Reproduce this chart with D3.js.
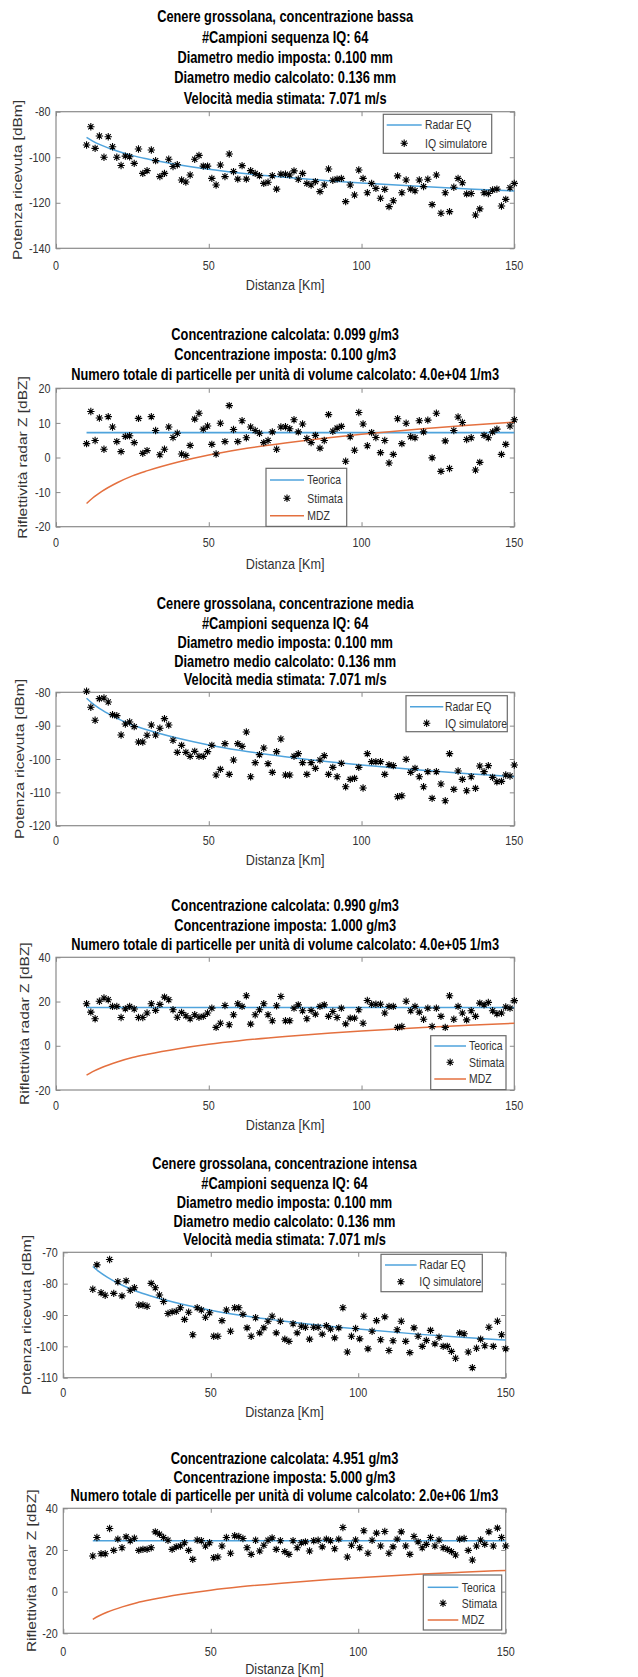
<!DOCTYPE html>
<html><head><meta charset="utf-8">
<script src="https://cdn.jsdelivr.net/npm/d3@7/dist/d3.min.js"></script>
<style>html,body{margin:0;padding:0;background:#fff;}svg{display:block;}</style>
</head><body>
<svg id="chart" width="638" height="1677"></svg>
<script>
// ---------------- DATA ----------------
const distanze = [10,11.4,12.8,14.2,15.7,17.1,18.5,19.9,21.3,22.7,24.1,25.6,27,28.4,29.8,31.2,32.6,34,35.5,36.9,38.3,39.7,41.1,42.5,43.9,45.4,46.8,48.2,49.6,51,52.4,53.8,55.3,56.7,58.1,59.5,60.9,62.3,63.7,65.2,66.6,68,69.4,70.8,72.2,73.6,75.1,76.5,77.9,79.3,80.7,82.1,83.5,84.9,86.4,87.8,89.2,90.6,92,93.4,94.8,96.3,97.7,99.1,100.5,101.9,103.3,104.7,106.2,107.6,109,110.4,111.8,113.2,114.6,116.1,117.5,118.9,120.3,121.7,123.1,124.5,126,127.4,128.8,130.2,131.6,133,134.4,135.9,137.3,138.7,140.1,141.5,142.9,144.3,145.8,147.2,148.6,150];

const potenzaBassa = [-94.6,-86.6,-96.1,-90.7,-100.0,-91.0,-95.4,-100.0,-103.6,-99.5,-99.8,-102.7,-96.4,-107.1,-105.9,-96.8,-101.5,-108.5,-107.1,-100.9,-104.1,-103.3,-110.0,-110.9,-107.8,-100.9,-99.2,-103.9,-103.9,-109.3,-112.2,-103.4,-108.5,-98.6,-106.3,-109.6,-103.7,-109.6,-105.9,-107.1,-108.1,-111.5,-111.0,-108.1,-114.0,-107.4,-107.5,-107.8,-106.0,-109.7,-107.1,-111.5,-112.2,-110.7,-115.1,-112.2,-105.2,-110.1,-109.6,-109.3,-119.5,-112.2,-116.6,-105.6,-109.3,-115.6,-111.5,-113.7,-118.0,-114.1,-121.7,-119.1,-108.2,-115.6,-110.0,-114.0,-114.7,-110.0,-112.9,-109.7,-120.8,-107.8,-124.6,-115.6,-123.9,-113.2,-109.3,-111.2,-116.1,-115.9,-125.4,-122.7,-115.6,-115.9,-114.4,-114.0,-121.4,-118.5,-113.4,-111.5];
const zBassa = [4.0,13.3,4.9,11.4,2.4,11.8,8.8,4.6,1.7,6.1,6.3,4.3,11.3,1.2,2.0,11.8,7.8,0.8,2.4,8.8,5.8,7.0,1.0,0.6,3.5,11.1,12.8,8.2,9.1,3.8,1.0,9.9,4.6,15.0,8.1,4.6,10.6,5.7,8.8,7.8,7.0,4.3,4.9,7.4,2.4,8.8,8.9,8.3,10.9,7.4,9.7,5.5,4.3,6.4,2.7,4.9,12.4,7.6,8.5,9.0,-1.1,6.0,2.1,13.0,9.7,3.4,7.2,5.8,1.4,4.9,-1.6,0.9,11.2,4.0,9.9,6.0,5.7,10.6,7.4,10.8,-0.1,12.8,-4.0,4.8,-3.2,7.8,11.7,10.1,5.2,5.7,-3.6,-1.4,6.4,5.7,7.4,8.2,0.9,3.8,9.1,10.9];

const potenzaMedia = [-79.7,-84.5,-88.4,-81.9,-81.7,-82.9,-86.7,-87.0,-92.8,-89.5,-88.9,-90.3,-94.9,-94.9,-92.9,-89.8,-92.8,-90.8,-87.9,-89.8,-94.4,-98.0,-95.9,-98.0,-99.2,-97.7,-99.2,-99.2,-97.8,-95.9,-104.8,-103.1,-95.4,-104.6,-100.3,-95.4,-96.2,-91.9,-105.3,-101.1,-98.7,-96.7,-101.4,-104.0,-97.8,-94.0,-104.8,-104.8,-99.2,-98.4,-101.1,-104.6,-101.1,-102.8,-100.3,-99.0,-104.6,-102.5,-105.3,-101.3,-108.3,-106.1,-105.8,-102.5,-108.7,-98.4,-100.8,-100.8,-100.8,-104.6,-101.7,-102.0,-111.3,-111.0,-100.1,-104.0,-102.8,-105.3,-108.3,-103.8,-111.8,-103.8,-107.5,-112.5,-98.4,-109.1,-103.6,-106.1,-109.5,-105.3,-108.8,-102.1,-103.8,-102.0,-105.5,-106.8,-106.7,-104.8,-105.1,-101.8];
const zMedia = [19.0,15.2,12.2,20.1,21.6,20.8,17.8,17.8,12.8,16.7,17.8,16.6,12.8,12.8,14.8,19.0,16.0,18.7,22.0,20.8,16.3,12.9,15.1,13.6,12.2,14.0,12.9,13.3,14.8,17.0,8.3,10.2,18.2,9.5,14.0,19.0,17.8,22.6,9.8,14.0,16.3,19.0,14.0,11.3,18.1,22.3,11.3,11.3,17.0,18.5,15.8,12.2,16.0,14.3,17.8,18.5,13.3,15.5,12.8,17.0,9.9,12.5,12.5,16.3,10.2,20.5,18.8,18.8,18.8,14.8,17.8,17.8,8.3,8.7,20.1,15.8,17.8,15.2,12.0,17.0,8.7,17.0,13.3,8.3,22.6,12.0,17.8,14.8,11.7,15.8,13.3,19.3,18.5,19.6,15.8,14.5,14.8,17.5,17.0,20.4];

const potenzaIntensa = [-81.8,-74.0,-82.9,-83.7,-72.3,-83.1,-79.4,-83.9,-79.1,-82.1,-81.3,-86.8,-86.8,-87.2,-79.9,-81.3,-83.6,-85.7,-89.5,-89.0,-88.8,-87.7,-91.4,-89.1,-96.3,-87.7,-88.4,-90.7,-89.3,-96.8,-96.8,-91.8,-88.4,-95.2,-87.7,-87.7,-89.8,-94.1,-96.8,-90.9,-95.7,-94.1,-92.0,-90.4,-95.7,-92.0,-97.7,-98.4,-92.8,-95.7,-93.6,-93.9,-97.7,-93.9,-93.9,-96.1,-93.4,-94.5,-97.3,-94.1,-87.7,-101.8,-96.8,-94.3,-97.6,-90.4,-100.8,-95.2,-91.8,-97.9,-90.6,-101.3,-98.2,-94.7,-92.0,-98.4,-102.0,-94.1,-96.8,-100.0,-98.1,-94.9,-99.2,-97.1,-100.0,-100.0,-101.6,-103.8,-95.7,-96.0,-101.8,-106.8,-100.6,-97.7,-99.8,-93.9,-100.0,-92.0,-96.3,-100.8];
const zIntensa = [17.1,26.0,18.2,18.2,30.3,19.8,25.2,21.1,26.3,24.4,25.6,19.8,20.3,20.3,21.1,28.7,27.6,26.0,24.7,20.3,21.5,21.9,23.5,19.8,15.5,24.8,24.4,21.9,23.5,16.3,16.6,21.9,26.0,18.4,26.8,26.5,25.5,21.1,17.9,24.7,19.5,22.3,24.7,25.8,20.3,24.4,19.2,17.9,24.4,21.1,23.5,23.9,19.5,24.4,24.7,21.5,25.2,24.4,20.6,25.2,30.8,16.6,22.3,24.8,21.1,29.2,18.4,24.7,28.1,21.9,28.9,18.4,21.5,25.2,28.7,21.9,17.9,26.5,23.9,21.1,22.7,26.0,21.9,24.8,21.1,20.3,19.2,17.6,25.2,25.5,19.8,15.2,21.9,24.8,22.7,28.7,21.9,30.5,26.0,21.9];

// theoretical curves, read at a few distances
const curvaX = [10,12,15,20,25,30,40,50,60,75,90,100,120,135,150];
const radarEqBassa   = [-91.3,-92.9,-94.8,-97.3,-99.3,-100.8,-103.3,-105.3,-106.9,-108.8,-110.4,-111.3,-112.9,-113.9,-114.8];
const radarEqMedia   = [-81.8,-83.4,-85.3,-87.8,-89.8,-91.3,-93.8,-95.8,-97.4,-99.3,-100.9,-101.8,-103.4,-104.4,-105.3];
const radarEqIntensa = [-74.5,-76.1,-78.0,-80.5,-82.5,-84.0,-86.5,-88.5,-90.1,-92.0,-93.6,-94.5,-96.1,-97.1,-98.0];
const mdz            = [-13.3,-11.7,-9.8,-7.3,-5.3,-3.8,-1.3,0.7,2.3,4.2,5.8,6.7,8.3,9.3,10.2];
const teoricaX = [10,150];
const teoricaBassa = [7.2,7.2];
const teoricaMedia = [17.3,17.3];
const teoricaIntensa = [24.4,24.4];

const xTicks = [0,50,100,150];
const yTicksPotBassa = [-140,-120,-100,-80];
const yTicksPotMedia = [-120,-110,-100,-90,-80];
const yTicksPotIntensa = [-110,-100,-90,-80,-70];
const yTicksZBassa = [-20,-10,0,10,20];
const yTicksZ = [-20,0,20,40];

const titoliBassa = ["Cenere grossolana, concentrazione bassa","#Campioni sequenza IQ: 64","Diametro medio imposta: 0.100 mm","Diametro medio calcolato: 0.136 mm","Velocità media stimata: 7.071 m/s"];
const titoliZBassa = ["Concentrazione calcolata: 0.099 g/m3","Concentrazione imposta: 0.100 g/m3","Numero totale di particelle per unità di volume calcolato: 4.0e+04 1/m3"];
const titoliMedia = ["Cenere grossolana, concentrazione media","#Campioni sequenza IQ: 64","Diametro medio imposta: 0.100 mm","Diametro medio calcolato: 0.136 mm","Velocità media stimata: 7.071 m/s"];
const titoliZMedia = ["Concentrazione calcolata: 0.990 g/m3","Concentrazione imposta: 1.000 g/m3","Numero totale di particelle per unità di volume calcolato: 4.0e+05 1/m3"];
const titoliIntensa = ["Cenere grossolana, concentrazione intensa","#Campioni sequenza IQ: 64","Diametro medio imposta: 0.100 mm","Diametro medio calcolato: 0.136 mm","Velocità media stimata: 7.071 m/s"];
const titoliZIntensa = ["Concentrazione calcolata: 4.951 g/m3","Concentrazione imposta: 5.000 g/m3","Numero totale di particelle per unità di volume calcolato: 2.0e+06 1/m3"];

// ---------------- STYLE ----------------
const FONT = "'Liberation Sans', Arial, Helvetica, sans-serif";
const SX = 0.816;
const BLUE = "#4fa3dc", ORANGE = "#e4703f", AXIS = "#8a8a8a", TXT = "#333333";

const svg = d3.select("#chart");

function txt(g, x, y, s, o) {
  o = o || {};
  const t = g.append("text")
    .attr("transform", o.rotate ? `translate(${x},${y}) rotate(-90) scale(1,${SX})` : `translate(${x},${y}) scale(${SX},1)`)
    .attr("font-family", FONT)
    .attr("font-size", o.size || 13)
    .attr("font-weight", o.bold ? "bold" : "normal")
    .attr("fill", o.fill || TXT)
    .attr("text-anchor", o.anchor || "middle")
    .attr("dy", "0.35em")
    .text(s);
  return t;
}

function star(g, x, y) {
  const a = 3.7, b = 2.6;
  g.append("path")
    .attr("d", `M${x-a},${y}L${x+a},${y}M${x},${y-a}L${x},${y+a}M${x-b},${y-b}L${x+b},${y+b}M${x-b},${y+b}L${x+b},${y-b}`)
    .attr("stroke", "#000").attr("stroke-width", 1.1).attr("fill", "none");
}

function panel(c) {
  const g = svg.append("g");
  const x = d3.scaleLinear().domain([0,150]).range([c.left, c.right]);
  const y = d3.scaleLinear().domain(c.yDomain).range([c.bottom, c.top]);
  const w = c.right - c.left, h = c.bottom - c.top;
  const tl = 4.5;

  // titles
  c.titles.forEach((s, i) => txt(g, (c.left + c.right) / 2, c.titleY[i], s, {bold: true, size: 15.7, fill: "#000"}));

  // axes via d3 axis (inner ticks) - bottom/left with labels, top/right without
  const axB = g.append("g").attr("transform", `translate(0,${c.bottom})`)
    .call(d3.axisBottom(x).tickValues(xTicks).tickSize(-tl).tickFormat(""));
  const axT = g.append("g").attr("transform", `translate(0,${c.top})`)
    .call(d3.axisTop(x).tickValues(xTicks).tickSize(-tl).tickFormat(""));
  const axL = g.append("g").attr("transform", `translate(${c.left},0)`)
    .call(d3.axisLeft(y).tickValues(c.yTicks).tickSize(-tl).tickFormat(""));
  const axR = g.append("g").attr("transform", `translate(${c.right},0)`)
    .call(d3.axisRight(y).tickValues(c.yTicks).tickSize(-tl).tickFormat(""));
  [axB, axT, axL, axR].forEach(a => {
    a.selectAll(".domain").remove();
    a.selectAll(".tick line").attr("stroke", AXIS).attr("stroke-width", 1);
  });
  g.append("rect").attr("x", c.left).attr("y", c.top).attr("width", w).attr("height", h)
    .attr("fill", "none").attr("stroke", AXIS).attr("stroke-width", 1.2);

  // tick labels
  xTicks.forEach(v => txt(g, x(v), c.tickY, String(v), {size: 13.2}));
  c.yTicks.forEach(v => txt(g, c.left - 5.5, y(v), String(v), {size: 13.2, anchor: "end"}));

  // axis labels
  txt(g, (c.left + c.right) / 2, c.xLabelY, "Distanza [Km]", {size: 15.5});
  txt(g, c.yLabelX, (c.top + c.bottom) / 2, c.yLabel, {size: 15.5, rotate: true});

  const line = d3.line().x(d => x(d[0])).y(d => y(d[1])).curve(d3.curveMonotoneX);
  const plot = g.append("g");
  if (c.kind === "power") {
    plot.append("path").datum(curvaX.map((d, i) => [d, c.curve[i]])).attr("d", line)
      .attr("fill", "none").attr("stroke", BLUE).attr("stroke-width", 1.5);
  } else {
    plot.append("path").datum(teoricaX.map((d, i) => [d, c.teorica[i]])).attr("d", line)
      .attr("fill", "none").attr("stroke", BLUE).attr("stroke-width", 1.6);
    plot.append("path").datum(curvaX.map((d, i) => [d, mdz[i]])).attr("d", line)
      .attr("fill", "none").attr("stroke", ORANGE).attr("stroke-width", 1.5);
  }
  c.points.forEach((v, i) => star(plot, x(distanze[i]), y(v)));

  // legend
  const L = c.legend;
  const lg = g.append("g");
  lg.append("rect").attr("x", L.box[0]).attr("y", L.box[1]).attr("width", L.box[2] - L.box[0]).attr("height", L.box[3] - L.box[1])
    .attr("fill", "#fff").attr("stroke", "#6a6a6a").attr("stroke-width", 1.2);
  L.items.forEach(it => {
    if (it.type === "line") {
      lg.append("line").attr("x1", L.sample[0]).attr("x2", L.sample[1]).attr("y1", it.y).attr("y2", it.y)
        .attr("stroke", it.color).attr("stroke-width", 1.5);
    } else {
      star(lg, (L.sample[0] + L.sample[1]) / 2, it.y);
    }
    txt(lg, L.textX, it.y, it.label, {size: 12.8, anchor: "start"});
  });
}

panel({kind: "power", left: 56, right: 514.3, top: 111.7, bottom: 248.3, yDomain: [-140,-80], yTicks: yTicksPotBassa,
  titles: titoliBassa, titleY: [16.7,37.3,57.7,78,99], tickY: 265, xLabelY: 285, yLabelX: 17.3, yLabel: "Potenza ricevuta [dBm]",
  curve: radarEqBassa, points: potenzaBassa,
  legend: {box: [383.3,114.3,491.7,153.3], sample: [386.7,421.7], textX: 425,
    items: [{type: "line", y: 125, color: BLUE, label: "Radar EQ"}, {type: "star", y: 143.3, label: "IQ simulatore"}]}});

panel({kind: "z", left: 56, right: 514.3, top: 388.3, bottom: 526.7, yDomain: [-20,20], yTicks: yTicksZBassa,
  titles: titoliZBassa, titleY: [334.3,354.3,375], tickY: 542.3, xLabelY: 563.3, yLabelX: 22.7, yLabel: "Riflettività radar Z [dBZ]",
  teorica: teoricaBassa, points: zBassa,
  legend: {box: [266,468.3,346.7,526.4], sample: [270,304], textX: 307.3,
    items: [{type: "line", y: 480, color: BLUE, label: "Teorica"}, {type: "star", y: 498.3, label: "Stimata"}, {type: "line", y: 515.7, color: ORANGE, label: "MDZ"}]}});

panel({kind: "power", left: 56, right: 514.3, top: 692.3, bottom: 825.7, yDomain: [-120,-80], yTicks: yTicksPotMedia,
  titles: titoliMedia, titleY: [604,623.3,642.3,661.3,680], tickY: 840, xLabelY: 860, yLabelX: 19.3, yLabel: "Potenza ricevuta [dBm]",
  curve: radarEqMedia, points: potenzaMedia,
  legend: {box: [406,695.7,507.3,731.7], sample: [410,443.3], textX: 445,
    items: [{type: "line", y: 706.7, color: BLUE, label: "Radar EQ"}, {type: "star", y: 723.3, label: "IQ simulatore"}]}});

panel({kind: "z", left: 56, right: 514.3, top: 957.3, bottom: 1090, yDomain: [-20,40], yTicks: yTicksZ,
  titles: titoliZMedia, titleY: [906,925.7,945], tickY: 1105, xLabelY: 1124.3, yLabelX: 25, yLabel: "Riflettività radar Z [dBZ]",
  teorica: teoricaMedia, points: zMedia,
  legend: {box: [430.7,1035.7,506,1089.6], sample: [434.3,466], textX: 469,
    items: [{type: "line", y: 1046, color: BLUE, label: "Teorica"}, {type: "star", y: 1062.3, label: "Stimata"}, {type: "line", y: 1079, color: ORANGE, label: "MDZ"}]}});

panel({kind: "power", left: 63.3, right: 505.7, top: 1252.3, bottom: 1377.7, yDomain: [-110,-70], yTicks: yTicksPotIntensa,
  titles: titoliIntensa, titleY: [1164,1183.3,1202.3,1221.3,1240], tickY: 1392.3, xLabelY: 1411.7, yLabelX: 26.7, yLabel: "Potenza ricevuta [dBm]",
  curve: radarEqIntensa, points: potenzaIntensa,
  legend: {box: [381,1254.3,482.3,1291.7], sample: [385,416.7], textX: 419.3,
    items: [{type: "line", y: 1265, color: BLUE, label: "Radar EQ"}, {type: "star", y: 1281.7, label: "IQ simulatore"}]}});

panel({kind: "z", left: 63.3, right: 505.7, top: 1508.3, bottom: 1633.3, yDomain: [-20,40], yTicks: yTicksZ,
  titles: titoliZIntensa, titleY: [1458.3,1477.3,1496], tickY: 1651, xLabelY: 1668.3, yLabelX: 31.7, yLabel: "Riflettività radar Z [dBZ]",
  teorica: teoricaIntensa, points: zIntensa,
  legend: {box: [423.3,1575,501.7,1630], sample: [427.7,458.3], textX: 461.7,
    items: [{type: "line", y: 1587.3, color: BLUE, label: "Teorica"}, {type: "star", y: 1603.3, label: "Stimata"}, {type: "line", y: 1620, color: ORANGE, label: "MDZ"}]}});
</script>
</body></html>
